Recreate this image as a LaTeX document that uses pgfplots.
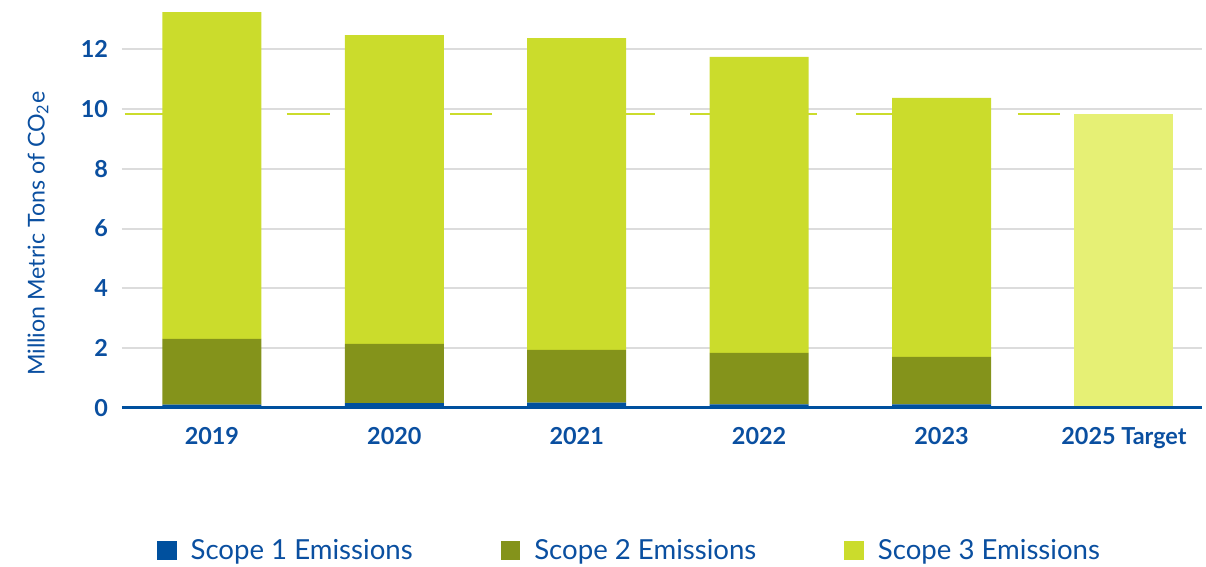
\documentclass[border=0pt]{standalone}
\usepackage{pgfplots}
\pgfplotsset{compat=1.18}
\usepackage{fontspec}
\setmainfont{Lato}
\definecolor{cblue}{HTML}{0A4FA0}
\definecolor{sone}{HTML}{00509E}
\definecolor{stwo}{HTML}{84931B}
\definecolor{sthree}{HTML}{CBDC2C}
\definecolor{starget}{HTML}{E6F075}
\definecolor{gridgray}{HTML}{DCDCDC}
\pgfplotsset{sqlegend/.style={legend image code/.code={\fill[##1] (0pt,-4.9pt) rectangle (9.8pt,4.9pt);}}}
\begin{document}
\begin{tikzpicture}
\begin{axis}[
 name=A,
 scale only axis, width=540pt, height=200.33pt,
 xmin=-0.493, xmax=5.428, ymin=0, ymax=13.4,
 axis line style={draw=none},
 major tick length=0pt,
 xtick={0,...,5}, xticklabels={2019,2020,2021,2022,2023,2025 Target},
 ytick={0,2,...,12},
 ymajorgrids, grid style={color=gridgray, line width=1pt},
 tick label style={font=\fontsize{11.7}{13}\selectfont\bfseries, text=cblue},
 /pgf/number format/assume math mode=true,
 xticklabel style={yshift=-6pt},
 yticklabel style={xshift=-3.5pt},
 ylabel={Million Metric Tons of CO\textsubscript{2}e},
 ylabel style={at={(axis description cs:-0.0778,0.435)}, anchor=center, font=\fontsize{11.6}{13}\selectfont, text=cblue},
 clip=false,
]
\coordinate (bbsw) at (rel axis cs:-0.11296,-0.38932);
\coordinate (bbne) at (rel axis cs:1.0037,1.01822);
\addplot[color=sthree, line width=1pt, unbounded coords=jump] coordinates {
 (-0.477,9.83) (-0.247,9.83) (0,nan)
 (0.411,9.83) (0.647,9.83) (0,nan)
 (1.305,9.83) (1.535,9.83) (0,nan)
 (2.193,9.83) (2.429,9.83) (0,nan)
 (2.621,9.83) (2.840,9.83) (0,nan)
 (3.087,9.83) (3.317,9.83) (0,nan)
 (3.531,9.83) (3.761,9.83) (0,nan)
 (4.419,9.83) (4.649,9.83)
};
\end{axis}
\begin{axis}[
 scale only axis, width=540pt, height=200.33pt,
 xmin=-0.493, xmax=5.428, ymin=0, ymax=13.4,
 ybar stacked, bar width=49.5pt,
 axis x line=bottom, axis y line=none,
 axis line style={-, draw=sone, line width=1.5pt},
 xtick=\empty, ytick=\empty,
 axis on top,
 clip=false,
 legend columns=3,
 legend style={at={(0.469,-0.356)}, anchor=center, draw=none, fill=none,
   font=\fontsize{13.8}{15}\selectfont, text=cblue,
   /tikz/every odd column/.append style={column sep=7pt},
   /tikz/every even column/.append style={column sep=44pt},
   nodes={inner sep=0pt}},
]
\addplot[fill=sone, draw=none, sqlegend] coordinates {(0,0.11) (1,0.16) (2,0.18) (3,0.12) (4,0.12) (5,0)};
\addlegendentry{Scope 1 Emissions}
\addplot[fill=stwo, draw=none, sqlegend] coordinates {(0,2.20) (1,1.98) (2,1.76) (3,1.72) (4,1.59) (5,0)};
\addlegendentry{Scope 2 Emissions}
\addplot[fill=sthree, draw=none, sqlegend] coordinates {(0,10.93) (1,10.33) (2,10.43) (3,9.90) (4,8.66) (5,0)};
\addlegendentry{Scope 3 Emissions}
\addplot[fill=starget, draw=none, forget plot] coordinates {(0,0) (1,0) (2,0) (3,0) (4,0) (5,9.83)};
\end{axis}
\path (bbsw) rectangle (bbne);
\end{tikzpicture}
\end{document}
